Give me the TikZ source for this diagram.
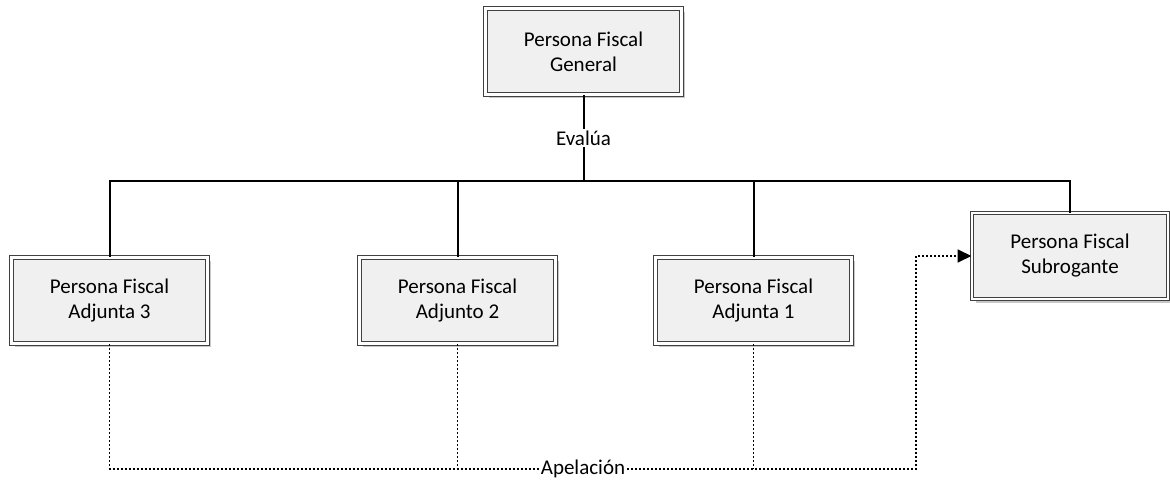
\documentclass[tikz,border=0pt]{standalone}
\usepackage{fontspec}
\setmainfont{Carlito}
\usetikzlibrary{arrows.meta,shadows}
\begin{document}
\begin{tikzpicture}[x=1pt,y=-1pt,
  box/.style={draw=black!75, line width=1pt, double=white, double distance=2.6pt,
    fill=black!6, minimum width=196pt, minimum height=86pt, align=center,
    font=\fontsize{21}{25}\selectfont, inner sep=0pt,
    drop shadow={shadow xshift=3.5pt, shadow yshift=-3.5pt, fill=black!22, opacity=1}},
  conn/.style={line width=2pt, black},
  dap/.style={line width=1.8pt, black, dash pattern=on 2pt off 2pt},
  lbl/.style={fill=white, inner sep=1.5pt, font=\fontsize{21}{25}\selectfont}]
\useasboundingbox[fill=white] (0,0) rectangle (1170,484);
\node[box] (G) at (583.5,51.5) {Persona Fiscal\\General};
\node[box] (A3) at (109.5,300.5) {Persona Fiscal\\Adjunta 3};
\node[box] (A2) at (457.5,300.5) {Persona Fiscal\\Adjunto 2};
\node[box] (A1) at (753.5,300.5) {Persona Fiscal\\Adjunta 1};
\node[box] (S) at (1070,256) {Persona Fiscal\\Subrogante};
\coordinate (bus) at (583.5,181);
\draw[conn] (G.south) -- (bus) node[lbl, pos=0.5] {Evalúa};
\draw[conn] (bus) -| (A3.north);
\draw[conn] (bus) -| (A2.north);
\draw[conn] (bus) -| (A1.north);
\draw[conn] (bus) -| (S.north);
\coordinate (ap) at (583,469);
\coordinate (turn) at (916,469);
\draw[dap] (A3.south) |- (ap);
\draw[dap] (A2.south) -- (A2.south |- ap);
\draw[dap] (A1.south) -- (A1.south |- ap);
\draw[dap, -{Triangle[length=14pt,width=13pt]}] (ap) -- (turn) |- (S.west);
\node[lbl] (apl) at (ap) {Apelación};
\end{tikzpicture}
\end{document}
